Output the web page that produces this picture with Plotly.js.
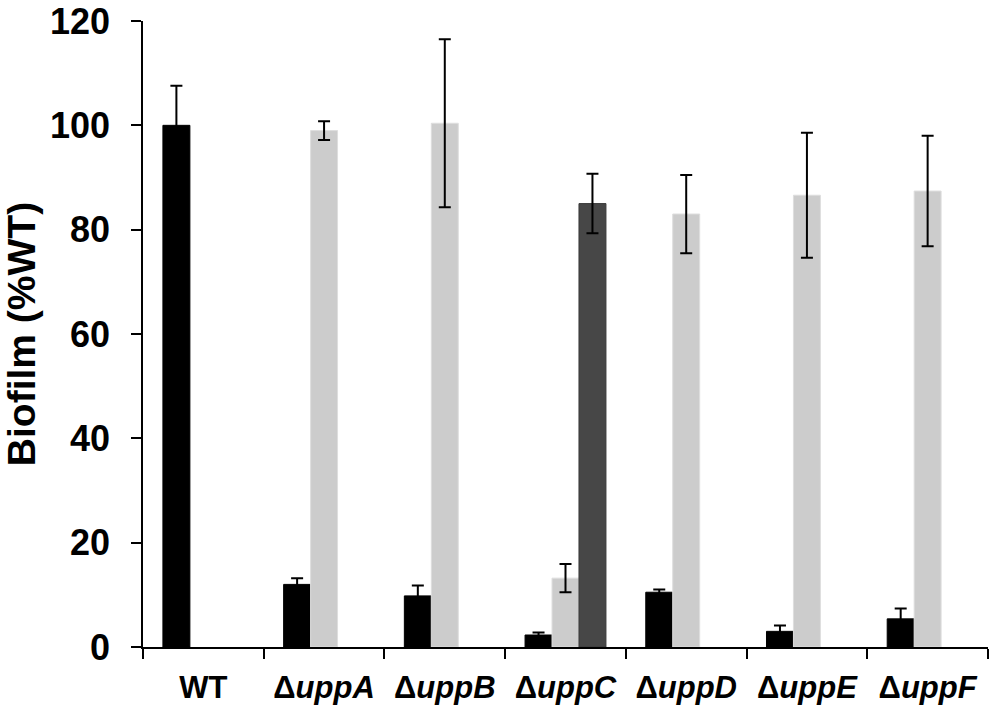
<!DOCTYPE html>
<html>
<head>
<meta charset="utf-8">
<script src="https://cdn.plot.ly/plotly-3.0.1.min.js"></script>
<style>
  html, body { margin: 0; padding: 0; background: #fff; }
  #plot { width: 990px; height: 710px; }
</style>
</head>
<body>
<div id="plot"></div>
<script>
// strains on the x axis
var strains = ['WT', 'ΔuppA', 'ΔuppB', 'ΔuppC', 'ΔuppD', 'ΔuppE', 'ΔuppF'];
var strainLabels = ['WT', 'Δ<i>uppA</i>', 'Δ<i>uppB</i>', 'Δ<i>uppC</i>',
                    'Δ<i>uppD</i>', 'Δ<i>uppE</i>', 'Δ<i>uppF</i>'];
var yTicks = [0, 20, 40, 60, 80, 100, 120];

// black bars (mutant)
var mutant    = [100, 12.0, 9.8, 2.3, 10.5, 3.0, 5.4];
var mutantErr = [7.6, 1.2, 2.0, 0.5, 0.5, 1.1, 2.0];

// light grey bars (complemented)
var comp    = [null, 99.0, 100.4, 13.2, 83.0, 86.6, 87.4];
var compErr = [null, 1.8, 16.1, 2.7, 7.5, 12.0, 10.6];

// dark grey bar (only uppC)
var extra    = [null, null, null, 85.0, null, null, null];
var extraErr = [null, null, null, 5.7, null, null, null];

function errs(arr) {
  return {type: 'data', array: arr, visible: true, color: '#000', thickness: 2, width: 6};
}

var traceMutant = {
  x: strains, y: mutant, type: 'bar', name: 'mutant',
  marker: {color: '#000000', line: {color: '#000000', width: 1}},
  error_y: errs(mutantErr)
};
var traceComp = {
  x: strains, y: comp, type: 'bar', name: 'complemented',
  marker: {color: '#cccccc', line: {color: '#dedede', width: 1}},
  error_y: errs(compErr)
};
var traceExtra = {
  x: strains, y: extra, type: 'bar', name: 'extra',
  marker: {color: '#474747', line: {color: '#3a3a3a', width: 1}},
  error_y: errs(extraErr)
};

var data = [traceMutant, traceComp, traceExtra];

var layout = {
  width: 990, height: 710,
  margin: {l: 143, r: 2, t: 21, b: 63},
  paper_bgcolor: '#fff', plot_bgcolor: '#fff',
  showlegend: false,
  barmode: 'group',
  bargap: 0.33,
  bargroupgap: 0,
  font: {family: 'Liberation Sans, Arial, sans-serif', color: '#000'},
  xaxis: {
    type: 'category',
    tickvals: strains,
    ticktext: strainLabels,
    tickson: 'boundaries',
    ticks: 'outside', ticklen: 10, tickwidth: 1.5, tickcolor: '#000',
    ticklabelstandoff: 12,
    ticklabeloverflow: 'allow',
    showline: true, linecolor: '#000', linewidth: 1.5,
    showgrid: false, zeroline: false,
    tickfont: {size: 31, weight: 'bold'}
  },
  yaxis: {
    range: [0, 120],
    tickvals: yTicks,
    ticks: 'outside', ticklen: 10, tickwidth: 1.5, tickcolor: '#000',
    ticklabelstandoff: 14,
    ticklabeloverflow: 'allow',
    showline: true, linecolor: '#000', linewidth: 1.5,
    showgrid: false, zeroline: false,
    tickfont: {size: 36, weight: 'bold'},
    title: {text: 'Biofilm (%WT)', font: {size: 39, weight: 'bold'}, standoff: 14}
  }
};

Plotly.newPlot('plot', data, layout, {displayModeBar: false});
</script>
</body>
</html>
